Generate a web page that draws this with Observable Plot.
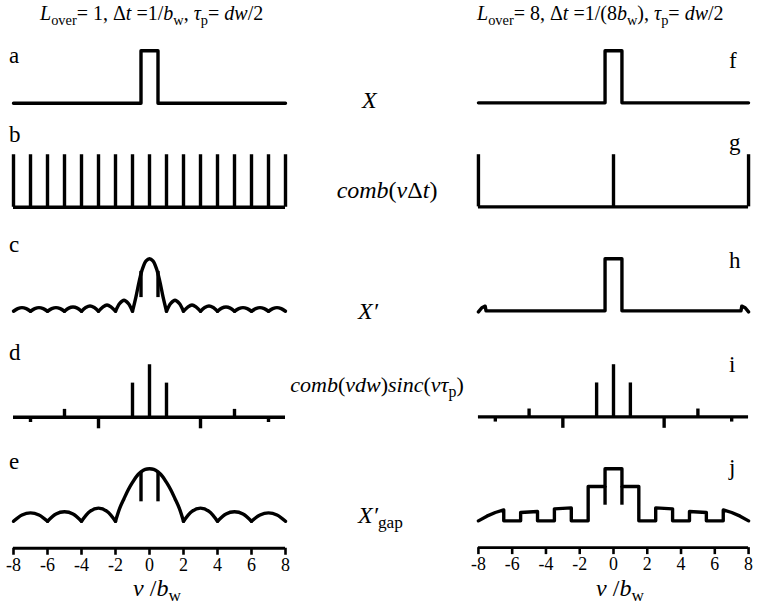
<!DOCTYPE html>
<html><head><meta charset="utf-8">
<script src="https://cdn.jsdelivr.net/npm/d3@7"></script>
<script src="https://cdn.jsdelivr.net/npm/@observablehq/plot@0.6"></script>
<style>
body{margin:0;background:#fff;}
#wrap{position:relative;width:760px;height:614px;overflow:hidden;font-family:'Liberation Serif','DejaVu Serif','Noto Serif',serif;color:#000;background:#fff}
.p{position:absolute}
.p svg{overflow:visible;background:transparent}
.p g[aria-label="x-axis tick"]{stroke-width:2.6px}
.p text{font-family:'Liberation Serif','DejaVu Serif','Noto Serif',serif}
.t{position:absolute;white-space:nowrap;line-height:1;font-family:'Liberation Serif','DejaVu Serif','Noto Serif',serif}
.t i{font-style:italic}
.t sub{font-size:72%;vertical-align:baseline;position:relative;top:0.32em;font-style:normal}
</style></head><body><div id="wrap"></div>
<script>
// ---------- data ----------
const nuTicks = [-8,-6,-4,-2,0,2,4,6,8];

// X : rectangle (panels a, f)
const rectNu  = [-8,-0.5,-0.5,0.5,0.5,8];
const rectVal = [0,0,1,1,0,0];

// comb teeth (panels b, g)
const comb1Nu = [-8,-7,-6,-5,-4,-3,-2,-1,0,1,2,3,4,5,6,7,8];
const comb8Nu = [-8,0,8];
const combVal = 1;

// X' for L_over = 1 (panel c)
const cNu  = [-8,-7.75,-7.5,-7.25,-7,-6.75,-6.5,-6.25,-6,-5.75,-5.5,-5.25,-5,-4.75,-4.5,-4.25,-4,-3.75,-3.5,-3.25,-3,-2.75,-2.5,-2.25,-2,-1.75,-1.5,-1.25,
              -1,-0.8,-0.6,-0.4,-0.2,0,0.2,0.4,0.6,0.8,
              1,1.25,1.5,1.75,2,2.25,2.5,2.75,3,3.25,3.5,3.75,4,4.25,4.5,4.75,5,5.25,5.5,5.75,6,6.25,6.5,6.75,7,7.25,7.5,7.75,8];
const cVal = [0,0.05,0.07,0.05,0,0.05,0.07,0.05,0,0.05,0.07,0.05,0,0.06,0.08,0.06,0,0.07,0.10,0.07,0,0.08,0.12,0.08,0,0.15,0.21,0.15,
              0,0.27,0.58,0.82,0.96,1,0.96,0.82,0.58,0.27,
              0,0.15,0.21,0.15,0,0.08,0.12,0.08,0,0.07,0.10,0.07,0,0.06,0.08,0.06,0,0.05,0.07,0.05,0,0.05,0.07,0.05,0,0.05,0.07,0.05,0];
const cBarNu = [-0.5,0.5];
const cBarLo = 0.26, cBarHi = 0.76;

// X' for L_over = 8 (panel h)
const hNu  = [-8,-7.8,-7.6,-7.55,-0.5,-0.5,0.5,0.5,7.55,7.6,7.8,8];
const hVal = [-0.02,0.06,0.09,0,0,1,1,0,0,0.09,0.06,-0.02];

// comb(v dw) sinc(v tau_p) (panels d, i)
const sincNu  = [-7,-5,-3,-1,0,1,3,5,7];
const sincVal = [-0.1,0.15,-0.22,0.65,1,0.65,-0.22,0.15,-0.1];

// X'gap for L_over = 1 (panel e)
const eNu  = [-8,-7.5,-7,-6.5,-6,-5.5,-5,-4.5,-4,-3.5,-3,-2.5,
              -2,-1.75,-1.5,-1.25,-1,-0.75,-0.5,-0.25,0,0.25,0.5,0.75,1,1.25,1.5,1.75,
              2,2.5,3,3.5,4,4.5,5,5.5,6,6.5,7,7.5,8];
const eVal = [0,0.12,0.16,0.12,0,0.14,0.18,0.14,0,0.19,0.25,0.19,
              0,0.25,0.43,0.6,0.74,0.86,0.94,0.99,1,0.99,0.94,0.86,0.74,0.6,0.43,0.25,
              0,0.19,0.25,0.19,0,0.14,0.18,0.14,0,0.12,0.16,0.12,0];
const eBarNu = [-0.5,0.5];
const eBarLo = 0.37, eBarHi = 0.93;

// X'gap for L_over = 8 (panel j)
const jNu  = [-8,-7.5,-7,-6.5,-6.5,-5.5,-5.5,-4.5,-4.5,-3.5,-3.5,-2.5,-2.5,-1.5,-1.5,-0.5,-0.5,0.5,0.5,1.5,1.5,2.5,2.5,3.5,3.5,4.5,4.5,5.5,5.5,6.5,6.5,7,7.5,8];
const jVal = [0,0.09,0.16,0.21,0,0,0.16,0.18,0,0,0.23,0.25,0,0,0.66,0.66,1,1,0.66,0.66,0,0,0.25,0.23,0,0,0.18,0.16,0,0,0.21,0.16,0.09,0];
const jBarNu = [-0.5,0.5];
const jBarLo = 0.3, jBarHi = 0.66;

// texts
const titleLeft  = '<i>L</i><sub>over</sub>= 1, Δ<i>t</i> =1/<i>b</i><sub>w</sub>, <i>τ</i><sub>p</sub>= <i>dw</i>/2';
const titleRight = '<i>L</i><sub>over</sub>= 8, Δ<i>t</i> =1/(8<i>b</i><sub>w</sub>), <i>τ</i><sub>p</sub>= <i>dw</i>/2';
const panelLettersLeft  = ["a","b","c","d","e"];
const panelLettersRight = ["f","g","h","i","j"];
const rowNames = ['<i>X</i>','<i>comb</i>(<i>ν</i>Δ<i>t</i>)','<i>X′</i>',
                  '<i>comb</i>(<i>νdw</i>)<i>sinc</i>(<i>ντ</i><sub>p</sub>)','<i>X′</i><sub>gap</sub>'];
const axisTitle = '<i>ν</i> /<i>b</i><sub>w</sub>';

// ---------- layout ----------
const wrap = document.getElementById("wrap");
const U = 52.5;                 // px per unit value
const colX = [13, 478];         // pixel of nu = -8 in each column
const rowBase = [103, 207, 310.5, 417, 521];
const axisGap = 27;             // px between last baseline and axis line
const mL = 12, mR = 12, W = 272 + mL + mR;
const SERIF = "'Liberation Serif','DejaVu Serif','Noto Serif',serif";

const pts = (nu, val) => nu.map((n, i) => ({nu: n, v: val[i]}));
function lobes(nu, val) {
  const out = []; let id = 0;
  nu.forEach((n, i) => {
    out.push({nu: n, v: val[i], lobe: id});
    if (val[i] === 0 && i > 0 && i < nu.length - 1) { id++; out.push({nu: n, v: val[i], lobe: id}); }
  });
  return out;
}

function panel(col, row, marks, axis = false) {
  const yHi = 1.1;
  const yLo = axis ? -axisGap / U : -0.4;
  const mB = axis ? 62 : 0;
  const H = (yHi - yLo) * U + mB;
  const allMarks = axis ? [...marks, Plot.ruleY([yLo], {strokeWidth: 2.8})] : marks;
  const svg = Plot.plot({
    width: W, height: H,
    marginLeft: mL, marginRight: mR, marginTop: 0, marginBottom: mB,
    x: axis
      ? {domain: [-8, 8], label: null, ticks: nuTicks, tickSize: 7, tickPadding: 3, tickFormat: d => String(d)}
      : {domain: [-8, 8], label: null, axis: null},
    y: {domain: [yLo, yHi], axis: null, label: null},
    style: {fontFamily: SERIF, fontSize: "18px", color: "black", background: "transparent", overflow: "visible"},
    marks: allMarks
  });
  const d = document.createElement("div");
  d.className = "p";
  d.style.left = (colX[col] - mL) + "px";
  d.style.top = (rowBase[row] - yHi * U) + "px";
  d.append(svg);
  wrap.append(d);
}

const SW = 3.4;
// column 0 (L_over = 1)
panel(0, 0, [Plot.line(pts(rectNu, rectVal), {x: "nu", y: "v", strokeWidth: SW})]);
panel(0, 1, [Plot.ruleY([0], {strokeWidth: SW}), Plot.ruleX(comb1Nu, {x: d => d, y1: 0, y2: combVal, strokeWidth: SW})]);
panel(0, 2, [Plot.line(lobes(cNu, cVal), {x: "nu", y: "v", z: "lobe", curve: "catmull-rom", strokeWidth: SW}),
             Plot.ruleX(cBarNu, {x: d => d, y1: cBarLo, y2: cBarHi, strokeWidth: SW})]);
panel(0, 3, [Plot.ruleY([0], {strokeWidth: SW}), Plot.ruleX(pts(sincNu, sincVal), {x: "nu", y1: 0, y2: "v", strokeWidth: SW})]);
panel(0, 4, [Plot.line(lobes(eNu, eVal), {x: "nu", y: "v", z: "lobe", curve: "catmull-rom", strokeWidth: SW}),
             Plot.ruleX(eBarNu, {x: d => d, y1: eBarLo, y2: eBarHi, strokeWidth: SW})], true);
// column 1 (L_over = 8)
panel(1, 0, [Plot.line(pts(rectNu, rectVal), {x: "nu", y: "v", strokeWidth: SW})]);
panel(1, 1, [Plot.ruleY([0], {strokeWidth: SW}), Plot.ruleX(comb8Nu, {x: d => d, y1: 0, y2: combVal, strokeWidth: SW})]);
panel(1, 2, [Plot.line(pts(hNu, hVal), {x: "nu", y: "v", strokeWidth: SW})]);
panel(1, 3, [Plot.ruleY([0], {strokeWidth: SW}), Plot.ruleX(pts(sincNu, sincVal), {x: "nu", y1: 0, y2: "v", strokeWidth: SW})]);
panel(1, 4, [Plot.line(pts(jNu, jVal), {x: "nu", y: "v", strokeWidth: SW}),
             Plot.ruleX(jBarNu, {x: d => d, y1: jBarLo, y2: jBarHi, strokeWidth: SW})], true);

// ---------- text ----------
function label(html, x, base, size, anchor = "start") {
  const d = document.createElement("div");
  d.className = "t";
  d.innerHTML = html;
  d.style.fontSize = size + "px";
  d.style.left = x + "px";
  d.style.top = (base - 0.84 * size) + "px";
  if (anchor === "middle") d.style.transform = "translateX(-50%)";
  wrap.append(d);
}
label(titleLeft, 40, 20, 20);
label(titleRight, 477, 20, 20);
const letterBaseL = [63, 142, 252, 360, 469];
const letterBaseR = [68, 150, 268, 372, 475];
panelLettersLeft.forEach((t, i) => label(t, 9, letterBaseL[i], 23));
panelLettersRight.forEach((t, i) => label(t, 729, letterBaseR[i], 23));
label(rowNames[0], 362, 108, 24);
label(rowNames[1], 387, 198, 24, "middle");
label(rowNames[2], 358, 319, 24);
label(rowNames[3], 377, 392, 22, "middle");
label(rowNames[4], 358, 523, 24);
label(axisTitle, 157, 596, 24, "middle");
label(axisTitle, 620, 596, 24, "middle");
</script></body></html>
